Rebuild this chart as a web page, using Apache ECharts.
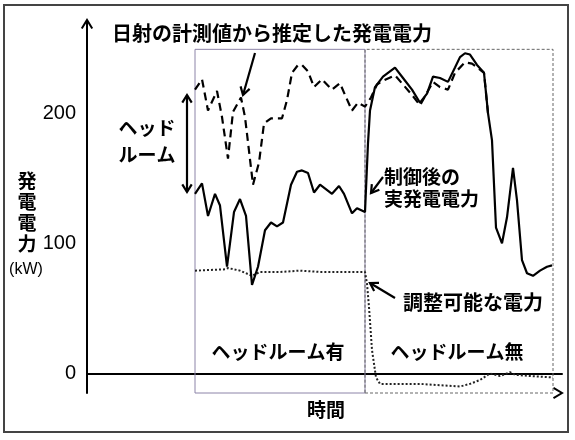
<!DOCTYPE html>
<html>
<head>
<meta charset="utf-8">
<script src="https://cdn.jsdelivr.net/npm/echarts@6/dist/echarts.min.js"></script>
<style>
  html, body { margin: 0; padding: 0; background: #fff; }
  #chart-container { width: 575px; height: 440px; }
</style>
</head>
<body>
<div id="chart-container"></div>
<script>
// time is in arbitrary steps along the x axis (0 .. 475)
const solidTime = [108, 115, 121, 128, 133, 140, 147, 153, 159, 165, 171, 178, 184, 190, 196, 204, 210, 215, 221, 227, 233, 245, 252, 257, 265, 270, 278,
  281, 283, 288, 296, 308, 316, 325, 333, 340, 346, 353, 361, 368, 373, 378, 383, 390, 397, 401, 405, 409, 415, 420, 426, 430, 435, 440, 446, 453, 460, 465];
const solidPower = [138, 146, 121, 138, 129, 82, 124, 134, 121, 68, 82, 110, 116, 113, 116, 145, 155, 156, 154, 139, 145, 138, 144, 138, 123, 127, 124,
  177, 202, 220, 228, 235, 227, 218, 208, 215, 228, 227, 224, 235, 243, 246, 245, 237, 231, 200, 179, 112, 100, 120, 158, 133, 87, 77, 75, 79, 82, 83];

const dashTime = [108, 115, 121, 130, 135, 141, 146, 154, 158, 166, 172, 177, 184, 195, 200, 205, 211, 215, 221, 227, 235, 245, 253, 258, 265, 271, 278, 284,
  290, 296, 308, 316, 325, 333, 346, 353, 361, 368, 378, 385, 397, 401];
const dashPower = [218, 226, 202, 217, 197, 165, 201, 212, 197, 145, 162, 192, 196, 196, 210, 231, 237, 237, 232, 220, 226, 218, 223, 214, 202, 208, 205, 212,
  222, 225, 229, 222, 214, 206, 224, 220, 218, 231, 239, 238, 231, 200];

const dotTime = [108, 138, 141, 153, 165, 173, 193, 213, 233, 253, 273, 278, 280, 282, 285, 289, 293, 313, 333, 353, 373, 383, 393, 403, 413, 423, 428, 443, 466];
const dotPower = [79, 80, 81, 79, 75, 78, 78, 79, 78, 78, 78, 78, 69, 51, 18, -3, -8, -8, -8, -9, -10, -8, -5, 0, -2, 1, -1, -2, -3];

const yTicks = [0, 100, 200];

const JP = '"Noto Sans CJK JP", sans-serif';

function pairs(xs, ys) {
  return xs.map((x, i) => [x, ys[i]]);
}

// open chevron head with its tip at (tx,ty), pointing away from (fx,fy)
function head(tx, ty, fx, fy, len, width) {
  const a = Math.atan2(fy - ty, fx - tx);
  const sp = 0.55;
  len = len || 9;
  return {
    type: "polyline",
    shape: {
      points: [
        [tx + len * Math.cos(a + sp), ty + len * Math.sin(a + sp)],
        [tx, ty],
        [tx + len * Math.cos(a - sp), ty + len * Math.sin(a - sp)],
      ],
    },
    style: { stroke: "#000", lineWidth: width || 2.2, fill: null },
  };
}

// line from (x1,y1) to tip (x2,y2)
function arrow(x1, y1, x2, y2, both) {
  const els = [{
    type: "line",
    shape: { x1, y1, x2, y2 },
    style: { stroke: "#000", lineWidth: 2.2 },
  }];
  els.push(head(x2, y2, x1, y1));
  if (both) els.push(head(x1, y1, x2, y2));
  return els;
}

function label(text, x, y, align, size, lineHeight) {
  return {
    type: "text",
    x, y,
    style: {
      text,
      fill: "#000",
      font: "bold " + (size || 19) + "px " + JP,
      textAlign: align || "left",
      textVerticalAlign: "middle",
      lineHeight: lineHeight || 27,
    },
  };
}

const dom = document.getElementById("chart-container");
const chart = echarts.init(dom, null, { renderer: "canvas" });

const option = {
  animation: false,
  backgroundColor: "#fff",
  grid: { left: 87, right: 13, top: 22, bottom: 47 },
  xAxis: {
    type: "value",
    min: 0,
    max: 475,
    axisLine: { lineStyle: { color: "#000", width: 2 } },
    axisTick: { show: false },
    axisLabel: { show: false },
    splitLine: { show: false },
  },
  yAxis: {
    type: "value",
    min: -15,
    max: 270,
    axisLine: { show: true, lineStyle: { color: "#000", width: 2 } },
    axisTick: { show: false },
    axisLabel: {
      customValues: yTicks,
      color: "#000",
      fontSize: 20,
      fontFamily: "Liberation Sans",
      margin: 11,
    },
    splitLine: { show: false },
  },
  series: [
    {
      name: "調整可能な電力",
      type: "line",
      data: pairs(dotTime, dotPower),
      showSymbol: false,
      lineStyle: { color: "#222", width: 2, type: [2, 2] },
      z: 3,
      markArea: {
        silent: true,
        data: [
          [
            { xAxis: 108, yAxis: -15, itemStyle: { color: "rgba(0,0,0,0)", borderColor: "#8c84a8", borderWidth: 1 } },
            { xAxis: 278, yAxis: 249 },
          ],
          [
            { xAxis: 278, yAxis: -15, itemStyle: { color: "rgba(0,0,0,0)", borderColor: "#666", borderWidth: 1, borderType: [3, 2] } },
            { xAxis: 466, yAxis: 249 },
          ],
        ],
      },
    },
    {
      name: "日射の計測値から推定した発電電力",
      type: "line",
      data: pairs(dashTime, dashPower),
      showSymbol: false,
      lineStyle: { color: "#000", width: 2.2, type: [8, 5] },
      z: 4,
    },
    {
      name: "制御後の実発電電力",
      type: "line",
      data: pairs(solidTime, solidPower),
      showSymbol: false,
      lineStyle: { color: "#000", width: 2.2 },
      z: 5,
    },
  ],
  graphic: [
    {
      type: "rect",
      shape: { x: 4, y: 5, width: 564, height: 427 },
      style: { fill: null, stroke: "#444", lineWidth: 2 },
      silent: true,
    },
    // axis arrow heads
    { type: "line", shape: { x1: 87, y1: 23, x2: 87, y2: 20 }, style: { stroke: "#000", lineWidth: 2 } },
    head(87, 20, 87, 40, 10, 2),
    { type: "line", shape: { x1: 560, y1: 393, x2: 562, y2: 393 }, style: { stroke: "#000", lineWidth: 2 } },
    head(562, 393, 540, 393, 10, 2),
    label("日射の計測値から推定した発電電力", 112, 33, "left", 20),
    ...arrow(255, 53, 243, 95),
    ...arrow(187, 95, 187, 192, true),
    label("ヘッド\nルーム", 147, 141, "center"),
    label("制御後の\n実発電電力", 384, 188, "left", 19, 22),
    ...arrow(383, 177, 371, 193),
    label("調整可能な電力", 403, 302, "left", 20),
    ...arrow(395, 298, 370, 283),
    label("ヘッドルーム有", 278, 352, "center"),
    label("ヘッドルーム無", 457, 352, "center"),
    label("時間", 326, 410, "center"),
    label("発\n電\n電\n力", 27, 212, "center", 19, 21),
    {
      type: "text",
      x: 26, y: 270,
      style: {
        text: "(kW)",
        fill: "#000",
        font: "16px Liberation Sans",
        textAlign: "center",
        textVerticalAlign: "middle",
      },
    },
  ],
};

chart.setOption(option);
window.addEventListener("resize", chart.resize);
</script>
</body>
</html>
